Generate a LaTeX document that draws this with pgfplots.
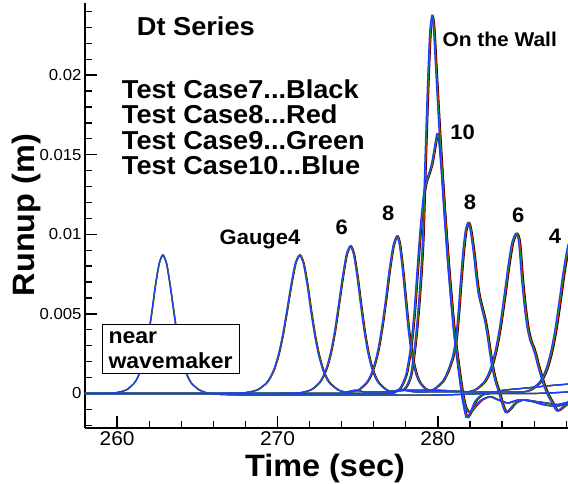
\documentclass[border=0pt]{standalone}
\usepackage{fontspec}
\setmainfont{Liberation Sans}
\newfontfamily\lbl[FakeStretch=1.05]{Liberation Sans}
\usepackage{pgfplots}
\usepackage{pgfplotstable}
\pgfplotsset{compat=1.18}
\definecolor{caseK}{RGB}{0,0,0}
\definecolor{caseR}{RGB}{235,0,0}
\definecolor{caseG}{RGB}{0,190,0}
\definecolor{caseB}{RGB}{30,60,255}

% gauge records (t in sec, runup in m)
\pgfplotstableread{
t y
258 0
259.5 0
260.14 0.00009
260.59 0.00023
261.04 0.00062
261.27 0.00099
261.49 0.00157
261.72 0.00244
261.94 0.00365
262.17 0.00519
262.39 0.00684
262.62 0.00818
262.84 0.0087
263.07 0.00818
263.29 0.00684
263.52 0.00519
263.74 0.00365
263.97 0.00244
264.19 0.00157
264.42 0.00099
264.64 0.00062
265.09 0.00023
265.54 0.00005
266.2 -0.00005
268 -0.0001
272 -0.0001
276 -0.0001
280 -0.0001
283 0
286 0
288.2 0.0001
}\nearwm
\pgfplotstableread{
t y
258 0
266 0
267.69 0.00003
268.21 0.00009
268.74 0.00023
269.26 0.00062
269.52 0.00099
269.79 0.00157
270.05 0.00244
270.31 0.00365
270.57 0.00519
270.84 0.00684
271.1 0.00818
271.36 0.0087
271.6 0.00818
271.84 0.00684
272.07 0.00519
272.31 0.00365
272.55 0.00244
272.79 0.00157
273.02 0.00099
273.26 0.00062
273.74 0.00023
274.21 0.00009
274.8 0.0002
275.4 0.0001
276.5 0.0001
278 0.0002
280 0.0002
282 0.0001
284 0.0001
285.3 0.0001
285.8 0.00026
286.3 0.00069
286.55 0.0011
286.8 0.00175
287.05 0.00272
287.3 0.00407
287.55 0.00579
287.8 0.00762
288.05 0.00912
288.2 0.0096
}\gfour
\pgfplotstableread{
t y
258 0
269 0
271.13 0.00003
271.61 0.00009
272.1 0.00025
272.58 0.00066
272.82 0.00106
273.07 0.00168
273.31 0.0026
273.55 0.00389
273.79 0.00553
274.04 0.00729
274.28 0.00871
274.52 0.00927
274.74 0.00871
274.96 0.00729
275.18 0.00553
275.4 0.00389
275.62 0.0026
275.84 0.00168
276.06 0.00106
276.28 0.00066
276.72 0.00025
277.16 0.00009
277.8 0.0002
278.5 0.0001
279.5 0.0001
280.5 0.0001
281.5 0.0001
281.85 0.0001
282.35 0.00027
282.85 0.00071
283.1 0.00115
283.35 0.00182
283.6 0.00282
283.85 0.00423
284.1 0.006
284.35 0.00791
284.6 0.00946
284.85 0.01006
285.03 0.0095
285.22 0.0071
285.4 0.0053
285.56 0.0041
285.74 0.0033
285.9 0.0029
286.05 0.0024
286.2 0.0018
286.37 0.0012
286.55 0.0006
286.78 0.0000
287.1 -0.0006
287.4 -0.0011
287.7 -0.0009
288.2 -0.0005
}\gsix
\pgfplotstableread{
t y
258 0
273 0
274.13 0.00004
274.61 0.0001
275.08 0.00026
275.55 0.0007
275.79 0.00113
276.02 0.00179
276.26 0.00277
276.49 0.00415
276.73 0.0059
276.96 0.00777
277.2 0.0093
277.43 0.00989
277.6 0.0093
277.78 0.00777
277.96 0.0059
278.13 0.00415
278.3 0.00277
278.48 0.00179
278.65 0.00113
278.83 0.0007
279.18 0.0003
279.55 0.0002
279.9 0.0004
280.3 0.0008
280.6 0.0014
280.9 0.0023
281.1 0.0034
281.25 0.0050
281.38 0.0068
281.55 0.0089
281.7 0.0102
281.86 0.01073
282.0 0.0103
282.21 0.0088
282.37 0.0073
282.52 0.0062
282.73 0.0053
282.9 0.0046
283.04 0.0038
283.2 0.0027
283.35 0.0017
283.55 0.0008
283.77 0.0001
284.0 -0.0007
284.2 -0.0012
284.45 -0.0010
284.8 -0.0006
285.3 -0.0004
286 -0.0005
286.7 -0.0006
287.4 -0.0007
288.2 -0.0005
}\geight
\pgfplotstableread{
t y
258 0
276 0
277.0 0.0001
277.6 0.0003
278.0 0.0012
278.3 0.0030
278.5 0.0050
278.7 0.0078
278.9 0.0105
279.1 0.0125
279.25 0.0133
279.45 0.0139
279.61 0.0145
279.8 0.0156
279.93 0.0163
280.05 0.0158
280.2 0.0140
280.4 0.0110
280.65 0.0076
280.96 0.0041
281.27 0.0016
281.5 0.0000
281.7 -0.0009
281.95 -0.0012
282.3 -0.0008
282.7 -0.0004
283.2 -0.0002
283.7 -0.0004
284.3 -0.0006
285 -0.0004
285.8 -0.0005
286.5 -0.0007
287.3 -0.0008
288.2 -0.0006
}\gten
\pgfplotstableread{
t y
258 0
276 0
277.0 0.0001
277.9 0.0003
278.3 0.0012
278.6 0.0035
278.8 0.0058
278.95 0.0080
279.05 0.0100
279.2 0.0150
279.35 0.0195
279.48 0.0226
279.61 0.0237
279.72 0.0229
279.85 0.0205
280.03 0.0172
280.2 0.0143
280.4 0.0111
280.65 0.0077
280.96 0.0040
281.27 0.0014
281.5 -0.0003
281.75 -0.0015
282.0 -0.0012
282.3 -0.0005
282.7 -0.0001
283.2 0.0000
284 0.0002
285 0.0003
286 0.0004
287 0.0005
288.2 0.0006
}\wall

% one gauge of one test case, slightly lagged in time
\newcommand{\gauge}[3]{%
  \addplot[#1, line width=1.2bp, smooth, tension=0.4]
    table[x expr={\thisrow{t}+#2*(\thisrow{t}-258)}, y=y] {#3};
}
\newcommand{\onecase}[2]{%
  \gauge{#1}{#2}{\nearwm}
  \gauge{#1}{#2}{\gfour}
  \gauge{#1}{#2}{\gsix}
  \gauge{#1}{#2}{\geight}
  \gauge{#1}{#2}{\gten}
  \gauge{#1}{#2}{\wall}
}

\begin{document}
\begin{tikzpicture}
\begin{axis}[
  at={(0,0)}, anchor=south west,
  scale only axis, width=483bp, height=424.5bp,
  xmin=258, xmax=288.11, ymin=-0.00217, ymax=0.0245,
  axis x line*=bottom, axis y line*=left,
  axis line style={line width=1.6bp, -},
  scaled x ticks=false, scaled y ticks=false,
  xtick={260,270,280}, xticklabels={260,270,280},
  ytick={0,0.005,0.01,0.015,0.02},
  yticklabels={0,0.005,0.01,0.015,0.02},
  minor xtick={262,264,266,268,272,274,276,278,282,284,286,288},
  minor ytick={-0.002,-0.001,0.001,0.002,0.003,0.004,0.006,0.007,0.008,0.009,0.011,0.012,0.013,0.014,0.016,0.017,0.018,0.019,0.021,0.022,0.023,0.024},
  tick align=inside,
  major tick length=12bp, minor tick length=7bp,
  every tick/.style={black, line width=1.3bp},
  xticklabel style={font=\lbl\fontsize{20}{20}\selectfont},
  yticklabel style={font=\lbl\fontsize{16}{16}\selectfont},
  /pgf/number format/assume math mode=true,
]
\onecase{caseK}{0.0045}
\onecase{caseR}{0.003}
\onecase{caseG}{0.0015}
\onecase{caseB}{0}
\end{axis}

\tikzset{lab/.style={inner sep=0pt, font=\lbl\bfseries\fontsize{21}{21}\selectfont},
         big/.style={inner sep=0pt, font=\lbl\bfseries\fontsize{26}{26}\selectfont}}
\node[big, anchor=base west] at (51.7bp,392bp) {Dt Series};
\node[big, anchor=base west] at (36.7bp,329.7bp) {Test Case7...Black};
\node[big, anchor=base west] at (36.7bp,304bp) {Test Case8...Red};
\node[big, anchor=base west] at (36.7bp,278.5bp) {Test Case9...Green};
\node[big, anchor=base west] at (36.7bp,253bp) {Test Case10...Blue};
\node[inner sep=0pt, font=\lbl\bfseries\fontsize{20}{20}\selectfont, anchor=base west] at (357.3bp,381.3bp) {On the Wall};
\node[lab, anchor=base] at (377.7bp,288bp) {10};
\node[lab, anchor=base] at (385bp,218bp) {8};
\node[lab, anchor=base] at (433.3bp,205.3bp) {6};
\node[lab, anchor=base] at (470bp,184bp) {4};
\node[lab, anchor=base] at (175bp,183bp) {Gauge4};
\node[lab, anchor=base] at (256.7bp,193bp) {6};
\node[lab, anchor=base] at (303.3bp,207.3bp) {8};
\draw[line width=1bp, fill=white] (17.7bp,54.7bp) rectangle (154.3bp,103.3bp);
\node[inner sep=0pt, font=\lbl\bfseries\fontsize{22}{22}\selectfont, anchor=base west] at (23.3bp,84bp) {near};
\node[inner sep=0pt, font=\lbl\bfseries\fontsize{22}{22}\selectfont, anchor=base west] at (23.3bp,59.7bp) {wavemaker};
\node[inner sep=0pt, font=\lbl\bfseries\fontsize{31}{31}\selectfont, anchor=base] at (240bp,-48.7bp) {Time (sec)};
\node[inner sep=0pt, font=\lbl\bfseries\fontsize{31}{31}\selectfont, anchor=base, rotate=90] at (-50bp,213bp) {Runup (m)};
\pgfresetboundingbox
\useasboundingbox (-85bp,-56bp) rectangle (483bp,428bp);
\end{tikzpicture}
\end{document}
